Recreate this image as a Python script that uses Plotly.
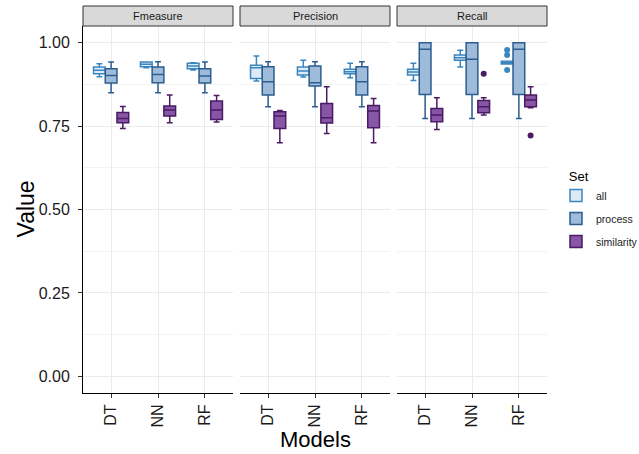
import plotly.graph_objects as go

# ---------------- data ----------------
metrics = ["Fmeasure", "Precision", "Recall"]
models = ["DT", "NN", "RF"]
sets = ["all", "process", "similarity"]

# per set: rows = metric (Fmeasure, Precision, Recall), cols = model (DT, NN, RF)
all_lower = [[0.898, 0.925, 0.918], [0.885, 0.897, 0.895], [0.887, 0.927, 0.936]]
all_q1 = [[0.907, 0.928, 0.922], [0.893, 0.903, 0.907], [0.903, 0.947, 0.936]]
all_median = [[0.917, 0.935, 0.930], [0.925, 0.915, 0.913], [0.912, 0.955, 0.940]]
all_q3 = [[0.927, 0.942, 0.938], [0.932, 0.927, 0.920], [0.920, 0.963, 0.944]]
all_upper = [[0.937, 0.942, 0.940], [0.960, 0.947, 0.938], [0.938, 0.977, 0.944]]

process_lower = [[0.850, 0.850, 0.850], [0.808, 0.808, 0.808], [0.773, 0.773, 0.773]]
process_q1 = [[0.879, 0.880, 0.879], [0.843, 0.870, 0.843], [0.845, 0.845, 0.845]]
process_median = [[0.902, 0.905, 0.900], [0.883, 0.880, 0.883], [0.980, 0.950, 0.980]]
process_q3 = [[0.922, 0.927, 0.922], [0.928, 0.930, 0.928], [1.000, 1.000, 1.000]]
process_upper = [[0.942, 0.943, 0.942], [0.943, 0.943, 0.943], [1.000, 1.000, 1.000]]

similarity_lower = [[0.743, 0.760, 0.762], [0.700, 0.728, 0.700], [0.740, 0.783, 0.805]]
similarity_q1 = [[0.760, 0.780, 0.770], [0.743, 0.759, 0.745], [0.763, 0.790, 0.808]]
similarity_median = [[0.773, 0.798, 0.798], [0.780, 0.775, 0.795], [0.783, 0.808, 0.828]]
similarity_q3 = [[0.791, 0.810, 0.825], [0.793, 0.818, 0.812], [0.803, 0.827, 0.843]]
similarity_upper = [[0.809, 0.843, 0.842], [0.797, 0.868, 0.833], [0.835, 0.835, 0.868]]

outlier_metric = ["Recall", "Recall", "Recall", "Recall", "Recall"]
outlier_model = ["RF", "RF", "RF", "NN", "RF"]
outlier_set = ["all", "all", "all", "similarity", "similarity"]
outlier_value = [0.978, 0.963, 0.918, 0.907, 0.722]

y_tick_values = [0.0, 0.25, 0.5, 0.75, 1.0]
y_tick_labels = ["0.00", "0.25", "0.50", "0.75", "1.00"]

# ---------------- styling ----------------
stats = {
    "all": (all_lower, all_q1, all_median, all_q3, all_upper),
    "process": (process_lower, process_q1, process_median, process_q3, process_upper),
    "similarity": (similarity_lower, similarity_q1, similarity_median, similarity_q3, similarity_upper),
}
fills = {"all": "#deebf7", "process": "#9ebcda", "similarity": "#8856a7"}
lines = {"all": "#3a86c0", "process": "#2b5d8e", "similarity": "#4a1a62"}
point_colors = {"all": "#3a86c0", "process": "#2b5d8e", "similarity": "#4a1a62"}

FONT = "Liberation Sans, Arial, sans-serif"
W, H = 639, 454
ML, MR, MT, MB = 83, 92, 26, 61
plot_w = W - ML - MR
plot_h = H - MT - MB
panel_px = 150.0
gap_px = (plot_w - 3 * panel_px) / 2.0
dodge = 0.25

fig = go.Figure()

for mi, metric in enumerate(metrics):
    xa = "x" if mi == 0 else f"x{mi + 1}"
    ya = "y" if mi == 0 else f"y{mi + 1}"
    for si, s in enumerate(sets):
        lo, q1, med, q3, hi = stats[s]
        pos = [k + 1 + (si - 1) * dodge for k in range(len(models))]
        fig.add_trace(go.Box(
            x=pos,
            lowerfence=lo[mi], q1=q1[mi], median=med[mi], q3=q3[mi], upperfence=hi[mi],
            width=dodge,
            fillcolor=fills[s],
            line=dict(color=lines[s], width=1.5),
            name=s, legendgroup=s, showlegend=(mi == 0),
            boxpoints=False,
            xaxis=xa, yaxis=ya,
            hoverinfo="skip",
        ))
    # outliers
    for s in sets:
        si = sets.index(s)
        xs, ys = [], []
        for om, omod, os_, ov in zip(outlier_metric, outlier_model, outlier_set, outlier_value):
            if om == metric and os_ == s:
                xs.append(models.index(omod) + 1 + (si - 1) * dodge)
                ys.append(ov)
        if xs:
            fig.add_trace(go.Scatter(
                x=xs, y=ys, mode="markers",
                marker=dict(color=point_colors[s], size=6),
                showlegend=False, xaxis=xa, yaxis=ya, hoverinfo="skip",
            ))

layout = dict(
    width=W, height=H,
    margin=dict(l=ML, r=MR, t=MT, b=MB, pad=0, autoexpand=False),
    paper_bgcolor="white", plot_bgcolor="white",
    font=dict(family=FONT, color="#1a1a1a"),
    showlegend=True,
    boxmode="overlay",
    legend=dict(
        title=dict(text="\u00a0\u00a0\u00a0Set", font=dict(size=13, color="#000000")),
        font=dict(size=10.5, color="#1a1a1a"),
        x=(556 - ML) / plot_w, xanchor="left",
        y=(H - MB - 164) / plot_h, yanchor="top",
        bgcolor="rgba(0,0,0,0)",
        tracegroupgap=4,
    ),
)

shapes = []
annotations = []
for mi, metric in enumerate(metrics):
    start = mi * (panel_px + gap_px) / plot_w
    end = (mi * (panel_px + gap_px) + panel_px) / plot_w
    key = "" if mi == 0 else str(mi + 1)
    layout["xaxis" + key] = dict(
        domain=[start, end],
        range=[0.4, 3.6],
        tickmode="array", tickvals=[1, 2, 3], ticktext=models,
        tickangle=-90,
        tickfont=dict(size=16, color="#1a1a1a"),
        ticks="outside", ticklen=4, tickcolor="#333333",
        showline=True, linecolor="#000000", linewidth=1,
        showgrid=True, gridcolor="#ebebeb", gridwidth=1,
        zeroline=False, automargin=False,
        anchor="y" if mi == 0 else f"y{mi + 1}",
    )
    layout["yaxis" + key] = dict(
        domain=[0, 1],
        range=[-0.05, 1.05],
        tickmode="array", tickvals=y_tick_values, ticktext=y_tick_labels,
        showticklabels=(mi == 0),
        tickfont=dict(size=16, color="#1a1a1a"),
        ticks="outside" if mi == 0 else "", ticklen=4, tickcolor="#333333",
        ticklabelstandoff=5,
        showline=(mi == 0), linecolor="#000000", linewidth=1,
        showgrid=True, gridcolor="#ebebeb", gridwidth=1,
        minor=dict(showgrid=True, gridcolor="#f3f3f3", gridwidth=0.6, tickvals=[0.125, 0.375, 0.625, 0.875], ticks=""),
        zeroline=False, automargin=False,
        anchor="x" if mi == 0 else f"x{mi + 1}",
    )
    if mi > 0:
        layout["yaxis" + key]["matches"] = "y"
    # facet strip
    shapes.append(dict(
        type="rect", xref="paper", yref="paper",
        x0=start, x1=end, y0=1.0, y1=1.0 + 20.0 / plot_h,
        fillcolor="#d9d9d9", line=dict(color="#333333", width=1), layer="above",
    ))
    annotations.append(dict(
        text=metric, xref="paper", yref="paper",
        x=(start + end) / 2, y=1.0 + 10.0 / plot_h, xanchor="center", yanchor="middle",
        showarrow=False, font=dict(size=11, color="#1a1a1a"),
    ))

annotations.append(dict(
    text="Models", xref="paper", yref="paper", x=0.5, y=-46.0 / plot_h,
    xanchor="center", yanchor="middle", showarrow=False, font=dict(size=22, color="#000000"),
))
annotations.append(dict(
    text="Value", xref="paper", yref="paper", x=-(ML - 25) / plot_w, y=0.5,
    xanchor="center", yanchor="middle", textangle=-90, showarrow=False,
    font=dict(size=23, color="#000000"),
))

layout["shapes"] = shapes
layout["annotations"] = annotations
fig.update_layout(**layout)

fig.write_html(
    "out.html",
    config={"displayModeBar": False},
    post_script="document.body.style.margin='0px'; document.body.style.overflow='hidden';",
)
